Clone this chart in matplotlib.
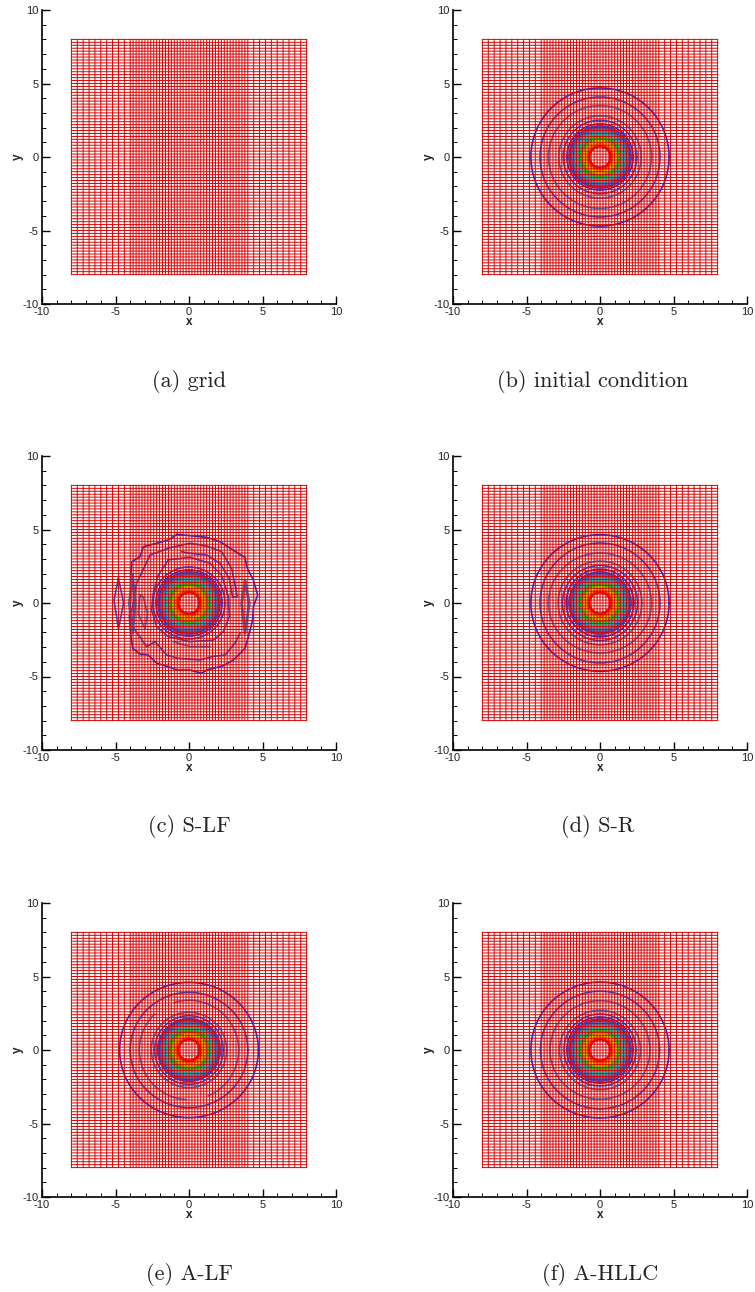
import numpy as np
import matplotlib
matplotlib.use("Agg")
import matplotlib.pyplot as plt

plt.rcParams['axes.unicode_minus'] = False
plt.rcParams['font.family'] = ['Liberation Sans', 'DejaVu Sans']

W, H = 755, 1292

# mesh lines: coarse outside |x|=4, fine inside
grid_x = [-8.0, -7.6, -7.2, -6.8, -6.4, -6.0, -5.6, -5.2, -4.8, -4.4, -4.0,
          -3.8, -3.6, -3.4, -3.2, -3.0, -2.8, -2.6, -2.4, -2.2, -2.0,
          -1.8, -1.6, -1.4, -1.2, -1.0, -0.8, -0.6, -0.4, -0.2, 0.0,
          0.2, 0.4, 0.6, 0.8, 1.0, 1.2, 1.4, 1.6, 1.8, 2.0,
          2.2, 2.4, 2.6, 2.8, 3.0, 3.2, 3.4, 3.6, 3.8, 4.0,
          4.4, 4.8, 5.2, 5.6, 6.0, 6.4, 6.8, 7.2, 7.6, 8.0]
grid_y = [-8.0, -7.8, -7.6, -7.4, -7.2, -7.0, -6.8, -6.6, -6.4, -6.2,
          -6.0, -5.8, -5.6, -5.4, -5.2, -5.0, -4.8, -4.6, -4.4, -4.2,
          -4.0, -3.8, -3.6, -3.4, -3.2, -3.0, -2.8, -2.6, -2.4, -2.2,
          -2.0, -1.8, -1.6, -1.4, -1.2, -1.0, -0.8, -0.6, -0.4, -0.2, 0.0,
          0.2, 0.4, 0.6, 0.8, 1.0, 1.2, 1.4, 1.6, 1.8, 2.0,
          2.2, 2.4, 2.6, 2.8, 3.0, 3.2, 3.4, 3.6, 3.8, 4.0,
          4.2, 4.4, 4.6, 4.8, 5.0, 5.2, 5.4, 5.6, 5.8, 6.0,
          6.2, 6.4, 6.6, 6.8, 7.0, 7.2, 7.4, 7.6, 7.8, 8.0]

# contours inside the vortex core
disc_r = [0.72, 0.80, 0.90, 1.00, 1.10, 1.20, 1.30, 1.40,
          1.50, 1.60, 1.70, 1.80, 1.90, 2.00, 2.10]
disc_c = ['#ee0000', '#ff2000', '#ff8000', '#f0c000', '#d8e000', '#80e000',
          '#10e000', '#00e040', '#00e0a0', '#00d8d8', '#20c0d8', '#30a0d0',
          '#3088d8', '#3070d8', '#3050e0']

ring_c = ['#1a2ce8', '#2050e0', '#2f7fdc', '#2f7fdc', '#2a50e4', '#2a2ce4']

# outer contours, semi axes
b_rx = [4.70, 4.08, 3.50, 2.80, 2.50, 2.25]
b_ry = [4.70, 4.08, 3.50, 2.80, 2.50, 2.25]
d_rx = [4.70, 4.08, 3.50, 2.85, 2.55, 2.30]
d_ry = [4.65, 4.08, 3.40, 2.85, 2.55, 2.30]
f_rx = [4.70, 4.05, 3.40, 2.75, 2.45, 2.25]
f_ry = [4.62, 4.00, 3.35, 2.70, 2.45, 2.25]
e_rx = [4.72, 4.00, 0.00, 2.56, 2.33, 2.12]
e_ry = [4.60, 3.92, 0.00, 2.56, 2.33, 2.12]
# third contour of A-LF is broken in two arcs
e_arc_r = 3.38
e_arc_deg = [(-67, 107), (134, 266)]

# S-LF contours
c_outer_x = [-0.80, 0.07, 1.20, 2.10, 3.00, 3.80, 3.97, 4.38, 4.67, 4.38, 4.33,
             4.04, 3.81, 3.02, 2.34, 1.20, 0.86, 0.07, -0.80, -1.40, -2.20,
             -2.77, -3.33, -3.83, -3.97, -4.06, -3.97, -3.97, -3.90, -3.33,
             -3.10, -2.20, -1.40, -0.80]
c_outer_y = [4.67, 4.58, 4.47, 4.17, 3.60, 3.10, 2.36, 1.56, 0.54, -0.25, -1.16,
             -2.29, -3.08, -3.88, -4.26, -4.56, -4.78, -4.56, -4.56, -4.33, -4.10,
             -3.54, -3.47, -3.08, -2.06, -0.93, 0.20, 1.56, 2.81, 3.15,
             3.83, 4.06, 4.29, 4.67]
c_second_x = [3.47, 3.13, 2.45, 1.54, 0.75, -0.73, -1.52, -2.31, -2.88, -3.67,
              -4.01, -3.56, -2.65, -1.29, 0.07, 1.20, 2.22, 2.90, 3.29, 2.97,
              2.74, 2.11, 1.20, 0.07, -0.50]
c_second_y = [-2.06, -2.74, -3.54, -3.65, -3.88, -3.76, -3.54, -2.63, -2.97, -1.84,
              -1.16, 1.34, 3.27, 3.76, 4.06, 3.88, 3.49, 2.36, 0.43, 0.39,
              1.68, 2.70, 3.27, 3.38, 3.49]
c_third_x = [-1.41, 0.07, 1.43, 2.22, 2.68, 2.74, 2.34, 1.66, 0.07, -1.41, -2.20,
             -2.54, -2.43, -2.09, -1.41]
c_third_y = [2.93, 3.11, 2.70, 1.90, 0.43, -0.93, -1.95, -2.52, -2.63, -2.29, -1.61,
             -0.48, 0.66, 1.90, 2.93]
c_frag_x = [-1.07, 0.07, 1.43]
c_frag_y = [-2.63, -2.97, -2.97]
c_lens_far_x = [-4.80, -5.10, -4.80, -4.45, -4.80]
c_lens_far_y = [1.68, 0.20, -1.79, 0.00, 1.68]
c_lens_left_x = [-3.83, -4.06, -3.83, -3.67, -3.83]
c_lens_left_y = [1.90, -0.02, -2.06, -0.02, 1.90]
c_lens_in_x = [-3.33, -3.45, -2.99, -2.83, -3.11, -3.33]
c_lens_in_y = [0.54, -0.70, -1.79, -0.70, 0.43, 0.54]
c_lens_right_x = [3.81, 3.58, 3.81, 4.10, 3.81]
c_lens_right_y = [1.45, -0.02, -2.06, -0.02, 1.45]
c_inner_r = [2.45, 2.25]
c_inner_c = ['#2a50e4', '#2a2ce4']

captions = ['(a) grid', '(b) initial condition', '(c) S-LF', '(d) S-R',
            '(e) A-LF', '(f) A-HLLC']
# panel boxes in pixels: left, top
panel_px = [(42, 10), (453, 10), (42, 456), (453, 456), (42, 903), (453, 903)]
caption_px = [(189, 381), (593, 381), (189, 827), (598, 827), (189, 1274), (600, 1274)]
SIDE = 294


def ring(ax, rx, ry, color, lw=1.2, a0=0, a1=360):
    t = np.radians(np.linspace(a0, a1, 180))
    ax.plot(rx * np.cos(t), ry * np.sin(t), color=color, lw=lw, zorder=2)


def core(ax):
    for r, c in zip(disc_r, disc_c):
        ring(ax, r, r, c, lw=1.6)


def setup(ax):
    for y in grid_y:
        ax.plot([-8, 8], [y, y], color='#d80000', lw=0.7, zorder=3, snap=False)
    for x in grid_x:
        ax.plot([x, x], [-8, 8], color='#d80000', lw=0.7, zorder=3, snap=False)
    ax.set_xlim(-10, 10)
    ax.set_ylim(-10, 10)
    ax.set_xticks([-10, -5, 0, 5, 10])
    ax.set_yticks([-10, -5, 0, 5, 10])
    ax.set_xticks(range(-10, 11), minor=True)
    ax.set_yticks(range(-10, 11), minor=True)
    ax.tick_params(which='major', direction='in', length=5.8, width=1.0,
                   labelsize=8, pad=2.5, labelcolor='#222222')
    ax.tick_params(which='minor', direction='in', length=3.2, width=0.7)
    ax.spines['top'].set_visible(False)
    ax.spines['right'].set_visible(False)
    ax.spines['left'].set_linewidth(1.2)
    ax.spines['bottom'].set_linewidth(1.2)
    ax.set_xlabel('x', fontsize=8.5, fontweight='bold', labelpad=-1, color='#222222')
    ax.set_ylabel('y', fontsize=8.5, fontweight='bold', labelpad=-1, color='#222222')


fig = plt.figure(figsize=(W / 100, H / 100), dpi=100)
axes = []
for left, top in panel_px:
    ax = fig.add_axes([left / W, 1 - (top + SIDE) / H, SIDE / W, SIDE / H])
    setup(ax)
    axes.append(ax)

# (b), (d), (f): nearly circular contours
for ax, rxs, rys in [(axes[1], b_rx, b_ry), (axes[3], d_rx, d_ry), (axes[5], f_rx, f_ry)]:
    for rx, ry, c in zip(rxs, rys, ring_c):
        ring(ax, rx, ry, c)
    core(ax)

# (e)
for rx, ry, c in zip(e_rx, e_ry, ring_c):
    if rx > 0:
        ring(axes[4], rx, ry, c)
for a0, a1 in e_arc_deg:
    ring(axes[4], e_arc_r, e_arc_r, ring_c[2], a0=a0, a1=a1)
core(axes[4])

# (c)
ax = axes[2]
for r, c in zip(c_inner_r, c_inner_c):
    ring(ax, r, r, c)
core(ax)
ax.plot(c_outer_x, c_outer_y, color=ring_c[0], lw=1.2, zorder=2)
ax.plot(c_second_x, c_second_y, color=ring_c[1], lw=1.2, zorder=2)
ax.plot(c_third_x, c_third_y, color=ring_c[4], lw=1.2, zorder=2)
ax.plot(c_frag_x, c_frag_y, color=ring_c[2], lw=1.2, zorder=2)
ax.plot(c_lens_far_x, c_lens_far_y, color=ring_c[1], lw=1.2, zorder=2)
ax.plot(c_lens_left_x, c_lens_left_y, color=ring_c[2], lw=2.0, zorder=2)
ax.plot(c_lens_in_x, c_lens_in_y, color=ring_c[2], lw=1.2, zorder=2)
ax.plot(c_lens_right_x, c_lens_right_y, color=ring_c[2], lw=2.0, zorder=2)

for text, (cx, cy) in zip(captions, caption_px):
    fig.text(cx / W, 1 - cy / H, text, family='cmr10', fontsize=16,
             ha='center', va='center', color='#222222')

fig.savefig('out.png', dpi=100)
